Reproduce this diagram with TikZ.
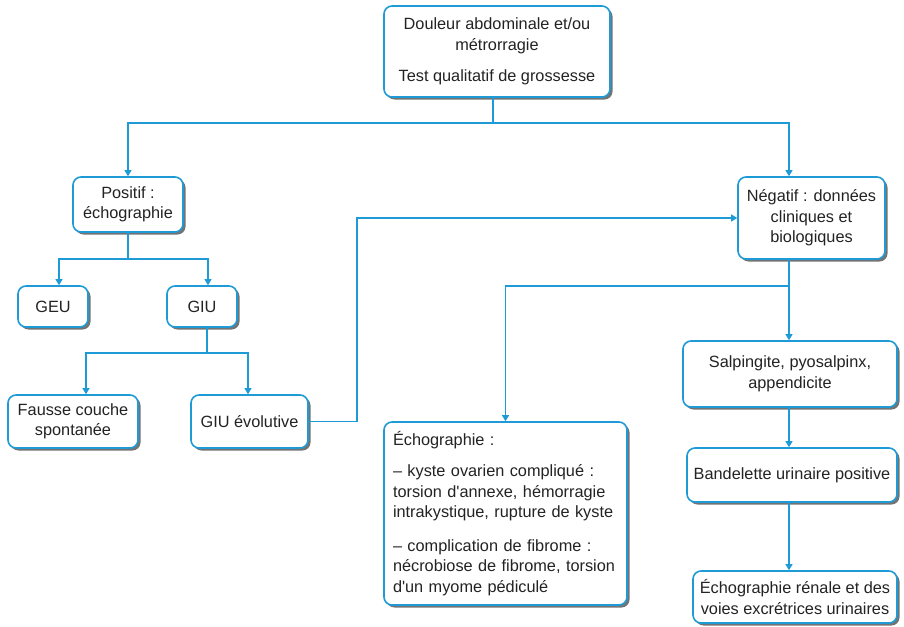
\documentclass[tikz,border=0pt]{standalone}
\usepackage{fontspec}
\setmainfont{Liberation Sans}
\usetikzlibrary{arrows.meta,shadows}
\definecolor{flowblue}{RGB}{30,155,215}
\definecolor{inkgrey}{RGB}{35,35,35}
\begin{document}
\begin{tikzpicture}[x=1pt,y=-1pt,
  box/.style={draw=flowblue, line width=1.6pt, rounded corners=8pt, fill=white,
    drop shadow={shadow xshift=2.5pt, shadow yshift=-2.5pt, fill=black!55, opacity=1},
    text=inkgrey, align=center, inner sep=3pt,
    font=\fontsize{16.3}{20.5}\selectfont},
  link/.style={draw=flowblue, line width=1.1pt},
  arrowlink/.style={link, -{Triangle[width=7pt,length=6pt]}}
]
\useasboundingbox (0,0) rectangle (904,626);

% boxes
\node[box, minimum width=226pt, minimum height=91pt] (top) at (497,51.5)
  {Douleur abdominale et/ou\\métrorragie\\[11pt]Test qualitatif de grossesse};
\node[box, minimum width=110pt, minimum height=55pt] (positif) at (128,204.5)
  {Positif :\\échographie};
\node[box, minimum width=70pt, minimum height=41pt] (geu) at (53,306.5) {GEU};
\node[box, minimum width=70pt, minimum height=41pt] (giu) at (202,306.5) {GIU};
\node[box, minimum width=130pt, minimum height=53pt] (fausse) at (73,421.5)
  {Fausse couche\\spontanée};
\node[box, minimum width=117pt, minimum height=53pt] (giuevol) at (249.5,421.5)
  {GIU évolutive};
\node[box, minimum width=147pt, minimum height=82pt] (negatif) at (811.5,218)
  {Négatif : données\\cliniques et\\biologiques};
\node[box, align=left, text width=225pt, inner xsep=9pt, minimum height=183pt] (echo) at (505.5,513.5)
  {Échographie :\\[11pt]
   – kyste ovarien compliqué :\\torsion d\textquotesingle annexe, hémorragie\\intrakystique, rupture de kyste\\[13pt]
   – complication de fibrome :\\nécrobiose de fibrome, torsion\\d\textquotesingle un myome pédiculé};
\node[box, minimum width=214pt, minimum height=66pt] (salp) at (790,374)
  {Salpingite, pyosalpinx,\\appendicite};
\node[box, minimum width=210pt, minimum height=54pt] (band) at (792,475)
  {Bandelette urinaire positive};
\node[box, minimum width=204pt, minimum height=52pt] (renal) at (795,597)
  {Échographie rénale et des\\voies excrétrices urinaires};

% junctions of the branching lines
\coordinate (j1) at (493,123);
\coordinate (j2) at (128,259);
\coordinate (j3) at (207,353);
\coordinate (j4) at (789,286);
\coordinate (loopx) at (357,0);

% connectors
\draw[link] ([xshift=-4pt]top.south) -- (j1);
\draw[arrowlink] (j1) -| (positif.north);
\draw[arrowlink] (j1) -| ([xshift=-22.5pt]negatif.north);

\draw[link] (positif.south) -- (j2);
\draw[arrowlink] (j2) -| ([xshift=6pt]geu.north);
\draw[arrowlink] (j2) -| ([xshift=6pt]giu.north);

\draw[link] ([xshift=5pt]giu.south) -- (j3);
\draw[arrowlink] (j3) -| ([xshift=13pt]fausse.north);
\draw[arrowlink] (j3) -| ([xshift=-1.5pt]giuevol.north);

\draw[arrowlink] (giuevol.east) -- (giuevol.east -| loopx) |- (negatif.west);

\draw[link] ([xshift=-22.5pt]negatif.south) -- (j4);
\draw[arrowlink] (j4) -| (echo.north);
\draw[arrowlink] (j4) -- (salp.north -| j4);
\draw[arrowlink] (salp.south -| j4) -- (band.north -| j4);
\draw[arrowlink] (band.south -| j4) -- (renal.north -| j4);
\end{tikzpicture}
\end{document}
